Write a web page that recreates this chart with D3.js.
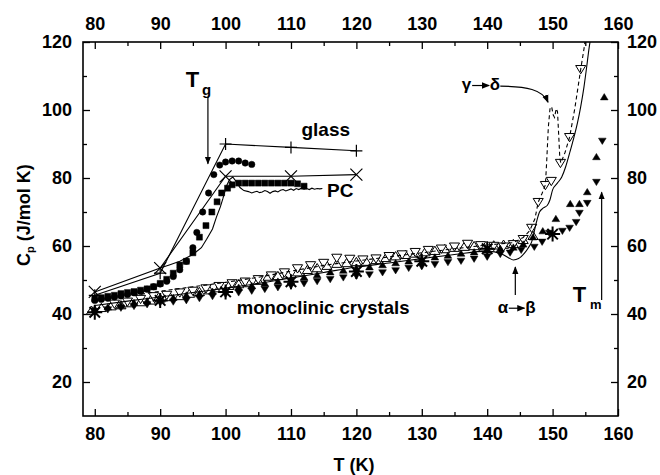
<!DOCTYPE html>
<html lang="en">
<head>
  <meta charset="UTF-8">
  <title>Cp of glass, PC and monoclinic crystals</title>
  <style>
    body { margin: 0; background: #fff; }
    svg { font-family: "Liberation Sans", Arial, sans-serif; font-weight: bold; }
    .axis text { font-size: 18px; font-weight: bold; fill: #000; }
    .axis path { display: none; }
    .axis line { stroke: #000; stroke-width: 1.3px; }
  </style>
</head>
<body>
  <script src="https://d3js.org/d3.v7.min.js"></script>
  <script>
    // tick values
    const xMajor = [80, 90, 100, 110, 120, 130, 140, 150, 160];
    const xMinor = [85, 95, 105, 115, 125, 135, 145, 155];
    const yMajor = [20, 40, 60, 80, 100, 120];
    const yMinor = [30, 50, 70, 90, 110];

    // glass (+) and PC (x) model points
    const glassPlus = [[80, 45.5], [90, 52], [100, 90], [110, 89], [120, 88]];
    const pcCross = [[80, 46.5], [90, 53.5], [100, 80.5], [110, 80.5], [120, 81]];

    // glass data (filled circles)
    const glassCircles = [[80, 44], [81, 44.3], [82, 44.6], [83, 45], [84, 45.3], [85, 45.7], [86, 46.2],
      [87, 46.6], [88, 47.3], [89, 48], [90, 48.8], [91, 49.6], [92, 51], [93, 53], [94, 55.5], [95, 59.5],
      [95.6, 64], [96.5, 70], [97.4, 75.6], [98.2, 81], [99.1, 83.8], [100, 84.7], [101, 85], [102, 85],
      [103, 84.4], [104, 84]];

    // PC data (filled squares)
    const pcSquares = [[80, 44.5], [81, 44.8], [82, 45.2], [83, 45.5], [84, 46], [85, 46.3], [86, 46.6],
      [87, 47], [88, 47.4], [89, 48], [90, 49], [91, 50.2], [92, 52], [93, 54.4], [94, 55.5], [95, 58],
      [96, 62.6], [97, 66], [97.9, 70], [98.7, 73], [99.4, 75.6], [100.3, 77], [101, 78], [102, 78.5],
      [103, 78.5], [104, 78.5], [105, 78.5], [106, 78.5], [107, 78.5], [108, 78.5], [109, 78.5],
      [110, 78.5], [111, 78.3], [112, 77.6]];

    // PC measured curve (solid, wavy plateau)
    const pcCurve = [[90, 53.5], [91.5, 54.5], [93, 55.5], [95, 57.5], [96.3, 59.5], [97.1, 62], [98, 65],
      [98.6, 68.5], [99.2, 71.5], [99.6, 74], [100.1, 77.5], [100.6, 79.5], [101.1, 80.3], [101.6, 79],
      [102.2, 77.2], [102.8, 76.3], [103.5, 76], [104, 75.6], [104.4, 75.9], [104.8, 76.1], [105.2, 75.7],
      [105.6, 75.9], [106, 76.3], [106.4, 76], [106.8, 75.5], [107.2, 76], [107.6, 76.2], [108, 75.9],
      [108.4, 76.4], [108.8, 76.6], [109.2, 76.2], [109.6, 76.5], [110, 76.8], [110.4, 76.4], [110.8, 76.9],
      [111.2, 76.6], [111.6, 77], [112, 76.7], [112.4, 76.9], [112.8, 76.6], [113.2, 77], [113.6, 76.7],
      [114, 76.9], [114.4, 76.8], [114.8, 76.9]];

    // crystal data
    const openUp = [[79.5, 41], [81, 41.8], [82.5, 42.3], [84, 42.6], [85.5, 43.2], [87, 43.5], [88.5, 44],
      [90, 44.6], [91.5, 45], [93, 45.3], [94.5, 46], [96, 46.5], [97.5, 47], [99, 47.6], [100.5, 48.3],
      [102, 48.8], [103.5, 49.1], [105, 49.8], [106.5, 51], [108, 51.2], [109.5, 51.6], [111, 52.3],
      [112.5, 53], [114, 53.5], [115.5, 54.2], [117, 54.8], [118.5, 55], [120, 55.3], [121.5, 55.4],
      [123, 55.9], [124.5, 56.5], [126, 57], [127.5, 57.4], [129, 57.8], [130.5, 58.2], [132, 58.6],
      [133.5, 59.1], [135, 59.5], [136.5, 59.8], [138, 60], [139.5, 59.6], [141, 60.2], [142.5, 60.4],
      [144, 60.6], [145.5, 61.8], [147, 63]];
    const openDown = [[83, 43], [85, 43.6], [87, 44.4], [89, 45.2], [91, 45.6], [93, 46.3], [95, 46.8],
      [97, 47.5], [99, 48.2], [101, 49], [103, 49.5], [105, 50.2], [107, 51.3], [109, 52.2], [111, 53.4],
      [113, 54.3], [115, 55], [117, 56.5], [119, 56.2], [121, 56], [123, 56.3], [125, 57], [127, 57.5],
      [129, 58.2], [131, 58.8], [133, 59.2], [135, 59.8], [137, 60.6], [139, 60.2], [141, 60], [142.5, 59.8],
      [144, 60.5], [145.5, 62], [146.8, 65.3], [147.8, 72.9], [148.9, 77.9], [149.8, 79.1], [151.2, 84.4],
      [152.6, 92], [154.3, 112]];
    const fillUp = [[80, 41.5], [82, 42], [84, 42.5], [86, 43.3], [88, 43.8], [90, 44.3], [92, 44.8],
      [94, 45.5], [96, 46], [98, 46.6], [100, 47.3], [102, 47.8], [104, 48.3], [106, 49], [108, 49.6],
      [110, 50.2], [112, 50.8], [114, 51.5], [116, 52.3], [118, 52.8], [120, 53.3], [122, 53.8], [124, 54.4],
      [126, 55], [128, 55.5], [130, 56.2], [132, 56.7], [134, 57.2], [136, 57.8], [138, 58.2], [140, 58.7],
      [142, 59.2], [144, 59.6], [145.5, 60.5], [147, 62.6], [148.5, 64.4], [150.5, 68], [152.7, 72.4],
      [154.1, 72.4], [155.3, 75.9], [156.7, 86.2], [157.9, 103.8]];
    const fillDown = [[80, 40.8], [82, 41.3], [84, 41.8], [86, 42.3], [88, 42.8], [90, 43.3], [92, 43.6],
      [94, 44], [96, 44.6], [98, 45.2], [100, 45.8], [102, 46.3], [104, 46.8], [106, 47.3], [108, 47.8],
      [110, 48.3], [112, 49], [114, 49.6], [116, 50.2], [118, 50.7], [120, 51.2], [122, 51.6], [124, 52.2],
      [126, 52.8], [128, 53.5], [130, 54], [132, 54.6], [134, 55.2], [136, 55.6], [138, 56.2], [140, 56.8],
      [142, 57.6], [143.5, 58], [145.2, 58.8], [147.2, 59.7], [148.4, 61.2], [149.5, 63.8], [151.5, 64.4],
      [152.6, 65.3], [153.6, 67], [154.1, 69.7], [155.3, 72.6], [156.7, 78.8], [157.6, 90.9]];
    const stars = [[80, 40.5], [90, 44], [100, 46.5], [110, 49.5], [120, 52.5], [130, 55.5], [140, 59.2], [150, 63.5]];

    const crystalSolid = [[80, 42.5], [85, 43.8], [90, 45], [95, 46.3], [100, 47.6], [105, 49], [110, 50.6],
      [115, 52.2], [120, 53.8], [125, 55], [130, 56.3], [135, 57.5], [140, 58.5], [142.3, 57.6], [143.3, 56.5],
      [144, 55.9], [144.8, 56.3], [145.7, 57.9], [146.3, 59.5], [146.8, 61.2], [147.5, 66.8], [148, 70],
      [148.6, 71.2], [149.2, 72], [149.6, 73.6], [150, 76.5], [150.7, 78.4], [151.4, 80.3], [152, 83.3],
      [152.6, 87.3], [153.2, 91.5], [153.8, 96.2], [154.3, 101], [154.8, 106.8], [155.2, 112.5],
      [155.6, 118.5], [155.9, 122]];
    const crystalDashed = [[86, 45.5], [90, 46.7], [95, 48], [100, 49.3], [105, 50.8], [110, 52.6],
      [115, 54.3], [120, 55.6], [125, 56.8], [130, 58], [135, 59.2], [140, 60.3], [144, 61], [145.5, 62.5],
      [146.5, 64.5], [147.3, 68], [147.8, 72.9], [148.4, 75.5], [148.9, 78], [149.1, 85], [149.35, 95],
      [149.6, 100.3], [149.85, 101], [150.1, 98.5], [150.3, 97.8], [150.55, 100.4], [150.75, 99.5],
      [150.95, 92], [151.1, 86], [151.25, 84.4], [151.9, 87.5], [152.6, 92], [153.4, 100.5], [154.3, 112],
      [154.8, 118], [155.1, 122]];

    // scales
    const x = d3.scaleLinear().domain([78.2, 160]).range([83, 618]);
    const y = d3.scaleLinear().domain([10, 120]).range([416, 42]);

    const svg = d3.select("body").append("svg")
      .attr("width", 660)
      .attr("height", 475);

    svg.append("defs").append("clipPath").attr("id", "plot")
      .append("rect").attr("x", 83).attr("y", 42).attr("width", 535).attr("height", 374);
    svg.append("defs").append("marker")
        .attr("id", "head")
        .attr("viewBox", "0 -5 10 10")
        .attr("refX", 9).attr("refY", 0)
        .attr("markerWidth", 8).attr("markerHeight", 8)
        .attr("markerUnits", "userSpaceOnUse")
        .attr("orient", "auto")
      .append("path").attr("d", "M0,-4L10,0L0,4Z").attr("fill", "#000");

    // axes with inward ticks
    function addAxis(axisFn, pos, vals, size, labels, pad) {
      const a = axisFn.tickValues(vals).tickSize(-size).tickPadding(pad);
      if (!labels) a.tickFormat("");
      svg.append("g").attr("class", "axis").attr("transform", pos).call(a);
    }
    addAxis(d3.axisBottom(x), "translate(0,416)", xMajor, 7, true, 11);
    addAxis(d3.axisBottom(x), "translate(0,416)", xMinor, 4, false, 11);
    addAxis(d3.axisTop(x), "translate(0,42)", xMajor, 7, true, 12);
    addAxis(d3.axisTop(x), "translate(0,42)", xMinor, 4, false, 12);
    addAxis(d3.axisLeft(y), "translate(83,0)", yMajor, 7, true, 11);
    addAxis(d3.axisLeft(y), "translate(83,0)", yMinor, 4, false, 11);
    addAxis(d3.axisRight(y), "translate(618,0)", yMajor, 7, true, 9);
    addAxis(d3.axisRight(y), "translate(618,0)", yMinor, 4, false, 9);

    svg.append("rect")
      .attr("x", 83).attr("y", 42).attr("width", 535).attr("height", 374)
      .attr("fill", "none").attr("stroke", "#000").attr("stroke-width", 1.6);

    const plot = svg.append("g").attr("clip-path", "url(#plot)");
    const line = d3.line().x(d => x(d[0])).y(d => y(d[1]));
    const mono = d3.line().x(d => x(d[0])).y(d => y(d[1])).curve(d3.curveMonotoneX);

    function drawLine(data, gen, dash) {
      plot.append("path").datum(data)
        .attr("d", gen)
        .attr("fill", "none")
        .attr("stroke", "#000")
        .attr("stroke-width", 1.1)
        .attr("stroke-dasharray", dash || null);
    }

    // marker shapes
    const shapes = {
      circle: s => `M${s},0A${s},${s} 0 1,1 ${-s},0A${s},${s} 0 1,1 ${s},0Z`,
      square: s => `M${-s},${-s}H${s}V${s}H${-s}Z`,
      up: s => `M0,${-s}L${s * 1.1},${s * 0.8}L${-s * 1.1},${s * 0.8}Z`,
      down: s => `M0,${s}L${s * 1.1},${-s * 0.8}L${-s * 1.1},${-s * 0.8}Z`,
      plus: s => `M${-s},0H${s}M0,${-s}V${s}`,
      cross: s => `M${-s},${-s}L${s},${s}M${-s},${s}L${s},${-s}`,
      star: s => `M${-s},0H${s}M0,${-s}V${s}M${-s * 0.7},${-s * 0.7}L${s * 0.7},${s * 0.7}M${-s * 0.7},${s * 0.7}L${s * 0.7},${-s * 0.7}`
    };
    function drawPoints(data, shape, size, fill, sw) {
      plot.append("g").selectAll("path")
        .data(data)
        .enter().append("path")
        .attr("transform", d => `translate(${x(d[0])},${y(d[1])})`)
        .attr("d", shapes[shape](size))
        .attr("fill", fill ? "#000" : (shape === "up" || shape === "down" ? "#fff" : "none"))
        .attr("stroke", "#000")
        .attr("stroke-width", sw || 1);
    }

    // crystals
    drawPoints(openUp, "up", 4.6, false, 1);
    drawPoints(openDown, "down", 4.6, false, 1);
    drawPoints(fillUp, "up", 3.5, true, 0.5);
    drawPoints(fillDown, "down", 3.5, true, 0.5);
    drawLine(crystalSolid, mono);
    drawLine(crystalDashed, line, "4,3");
    drawPoints(stars, "star", 7.5, false, 2);

    // glass and PC
    drawPoints(glassCircles, "circle", 3.2, true, 0.5);
    drawPoints(pcSquares, "square", 3, true, 0.5);
    drawLine(glassPlus, line);
    drawLine(pcCross, line);
    drawLine(pcCurve, line);
    drawPoints(glassPlus, "plus", 6, false, 1.2);
    drawPoints(pcCross, "cross", 6, false, 1.2);

    // annotations
    function arrow(x1, y1, x2, y2) {
      svg.append("line")
        .attr("x1", x(x1)).attr("y1", y(y1)).attr("x2", x(x2)).attr("y2", y(y2))
        .attr("stroke", "#000").attr("stroke-width", 1.2)
        .attr("marker-end", "url(#head)");
    }
    function label(t, v, str, size, anchor) {
      return svg.append("text")
        .attr("x", x(t)).attr("y", y(v))
        .attr("font-size", size + "px")
        .attr("text-anchor", anchor || "start")
        .text(str);
    }

    label(93.9, 106.8, "T", 22);
    label(96.4, 104.4, "g", 15);
    arrow(97.3, 103.8, 97.3, 84.2);

    label(111.6, 92.4, "glass", 19);
    label(115.5, 74.4, "PC", 19);
    label(101.7, 40, "monoclinic crystals", 18.5);

    // gamma -> delta
    label(136.1, 105.9, "γ", 17);
    arrow(137.7, 107.2, 140.3, 107.2);
    label(140.4, 105.9, "δ", 17);
    svg.append("path")
      .attr("d", `M${x(142)},${y(107)} C${x(146)},${y(107)} ${x(148.5)},${y(106)} ${x(149.3)},${y(102.3)}`)
      .attr("fill", "none").attr("stroke", "#000").attr("stroke-width", 1.2)
      .attr("marker-end", "url(#head)");

    // alpha -> beta
    arrow(144.3, 45.6, 144.3, 53.8);
    label(141.6, 40.3, "α", 17);
    arrow(143.3, 41.7, 145.7, 41.7);
    label(145.8, 40.3, "β", 17);

    // Tm
    label(153.1, 43.5, "T", 22);
    label(155.7, 41.5, "m", 13);
    arrow(157.5, 44.1, 157.5, 75.8);

    // axis titles
    svg.append("text")
      .attr("x", 354).attr("y", 471)
      .attr("text-anchor", "middle")
      .attr("font-size", "18px")
      .text("T (K)");
    const yt = svg.append("text")
      .attr("transform", "translate(30,215) rotate(-90)")
      .attr("text-anchor", "middle")
      .attr("font-size", "18px");
    yt.append("tspan").text("C");
    yt.append("tspan").attr("font-size", "11px").attr("dy", 4).text("p");
    yt.append("tspan").attr("dy", -4).text(" (J/mol K)");
  </script>
</body>
</html>
